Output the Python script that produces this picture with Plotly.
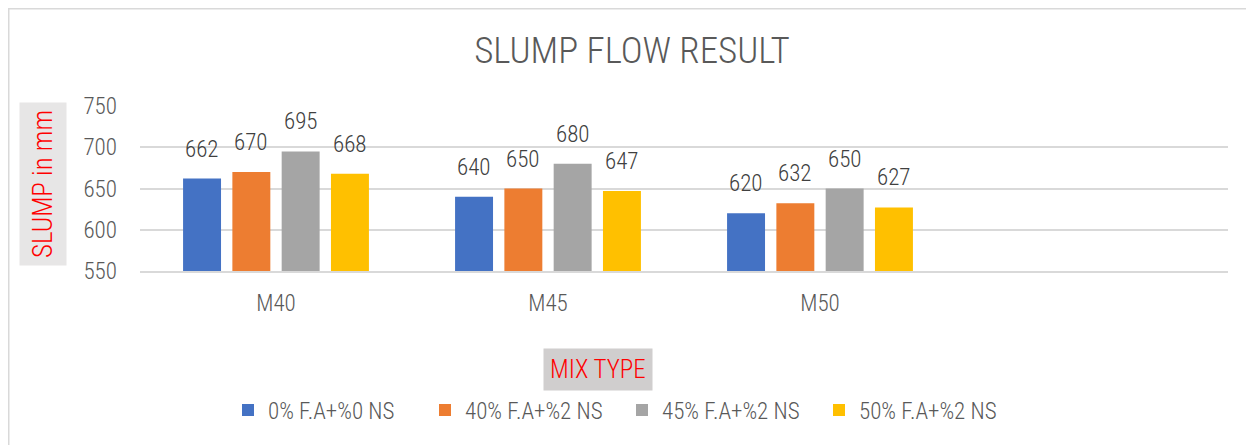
import plotly.graph_objs as go

# chart data
mix_types = ['M40', 'M45', 'M50']
series_names = ['0% F.A+%0 NS', '40% F.A+%2 NS', '45% F.A+%2 NS', '50% F.A+%2 NS']
slump_0fa = [662, 640, 620]
slump_40fa = [670, 650, 632]
slump_45fa = [695, 680, 650]
slump_50fa = [668, 647, 627]
y_ticks = [550, 600, 650, 700, 750]

colors = ['#4472C4', '#ED7D31', '#A5A5A5', '#FFC000']
FONT = 'Roboto Condensed, Liberation Sans Narrow, sans-serif'

# page body has an 8px margin, so the figure is 8px smaller and everything is in page px - 8
OFF = 8
W, H = 1254 - OFF, 445 - OFF
ML, MT = 140 - OFF, 106 - OFF
MR, MB = W - (1228 - OFF), H - (271 - OFF)
plot_w = W - ML - MR
plot_h = H - MT - MB
BARGAP = 0.275
n_cats = 4  # excel leaves an empty 4th slot on the axis
slot_px = plot_w / n_cats * (1 - BARGAP) / len(series_names)

def px_x(px):
    return (px - OFF - ML) / plot_w

def px_y(py):
    return (H - MB - (py - OFF)) / plot_h

fig = go.Figure()
all_series = [slump_0fa, slump_40fa, slump_45fa, slump_50fa]
for name, vals, col in zip(series_names, all_series, colors):
    fig.add_trace(go.Bar(
        x=mix_types, y=vals, name=name,
        marker=dict(color=col, line=dict(width=0)),
    ))

# data labels above each bar
for i, vals in enumerate(all_series):
    for cat, v in zip(mix_types, vals):
        fig.add_annotation(
            x=cat, y=v, text=str(v), showarrow=False,
            xshift=(i - 1.5) * slot_px, yanchor='bottom', yshift=14,
            font=dict(family=FONT, size=23, color='#404040', weight=300),
        )

# axis title boxes
fig.add_annotation(
    x=px_x(43), y=px_y(184), xref='paper', yref='paper',
    xanchor='center', yanchor='middle',
    text='SLUMP in mm', textangle=-90, showarrow=False,
    font=dict(family=FONT, size=27, color='#FF0000', weight=300),
    bgcolor='#E7E6E6', borderpad=7,
)
fig.add_annotation(
    x=px_x(598), y=px_y(369), xref='paper', yref='paper',
    xanchor='center', yanchor='middle',
    text='MIX TYPE', showarrow=False,
    font=dict(family=FONT, size=25, color='#FF0000', weight=300),
    bgcolor='#D0CECE', borderpad=6,
)

# chart frame (only top/left edges visible in the crop)
fig.add_shape(type='rect', xref='paper', yref='paper',
              x0=px_x(8.75), x1=px_x(1300), y0=px_y(8.75), y1=px_y(500),
              line=dict(color='#D9D9D9', width=1.5), fillcolor='rgba(0,0,0,0)', layer='below')

fig.update_layout(
    template='none',
    width=W, height=H,
    margin=dict(l=ML, r=MR, t=MT, b=MB, autoexpand=False),
    paper_bgcolor='white', plot_bgcolor='white',
    barmode='group', bargap=BARGAP, bargroupgap=0.23,
    title=dict(text='SLUMP FLOW RESULT', x=px_x(632), xref='paper', xanchor='center',
               y=1 - (50 - OFF) / H, yanchor='middle',
               font=dict(family=FONT, size=37, color='#595959', weight=300)),
    font=dict(family=FONT, color='#595959'),
    xaxis=dict(range=[-0.5, n_cats - 0.5], showgrid=False, showline=True,
               linecolor='#D9D9D9', linewidth=1.5, ticks='', automargin=False,
               tickfont=dict(family=FONT, size=23, color='#595959', weight=300),
               ticklabelstandoff=11),
    yaxis=dict(range=[550, 750], tickvals=y_ticks, showgrid=True,
               gridcolor='#D9D9D9', gridwidth=1.5, zeroline=False,
               showline=False, ticks='', automargin=False,
               tickfont=dict(family=FONT, size=23, color='#595959', weight=300),
               ticklabelstandoff=22),
    legend=dict(orientation='h', x=px_x(622), xanchor='center',
                y=px_y(410), yanchor='middle',
                font=dict(family=FONT, size=23, color='#595959', weight=300),
                itemwidth=30, entrywidth=152, traceorder='normal'),
    showlegend=True,
)

fig.write_html("out.html")
